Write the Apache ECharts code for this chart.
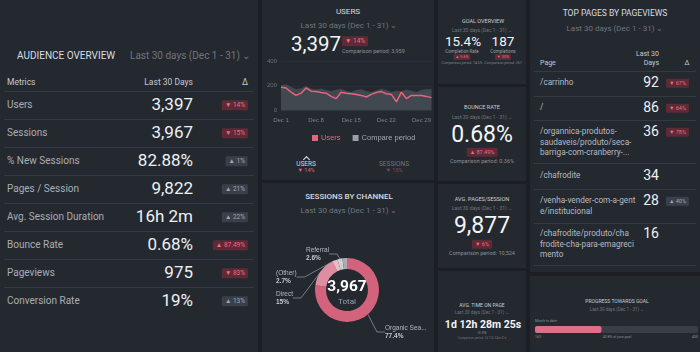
<!DOCTYPE html>
<html>
<head>
<meta charset="utf-8">
<script src="https://cdn.jsdelivr.net/npm/echarts@6/dist/echarts.min.js"></script>
<style>
  html, body { margin: 0; padding: 0; background: #1b1e23; }
  #root { position: relative; width: 700px; height: 352px; overflow: hidden; font-family: Roboto, 'Noto Sans', sans-serif; }
  .panel { position: absolute; background: #242930; }
  .t { position: absolute; white-space: nowrap; line-height: 1; }
  .line { position: absolute; height: 1px; background: #343a42; }
  .badge { display: inline-block; padding: 1.5px 3px; border-radius: 1px; }
  .bad { background: #5e2a35; color: #ec6d85; }
  .neutral { background: #39404a; color: #a1a7af; }
  .chart { position: absolute; }
  .caret { position: absolute; width: 4px; height: 4px; border-left: 1.5px solid #e6e8eb; border-top: 1.5px solid #e6e8eb; transform: rotate(45deg); }
</style>
</head>
<body>
<div id="root"></div>
<script>
// ---- data ----
var metricNames = ['Users', 'Sessions', '% New Sessions', 'Pages / Session', 'Avg. Session Duration', 'Bounce Rate', 'Pageviews', 'Conversion Rate']
var metricValues = ['3,397', '3,967', '82.88%', '9,822', '16h 2m', '0.68%', '975', '19%']
var metricDeltas = ['▼ 14%', '▼ 15%', '▲ 1%', '▲ 21%', '▲ 22%', '▲ 87.49%', '▼ 83%', '▲ 13%']
var metricDeltaKinds = ['bad', 'bad', 'neutral', 'neutral', 'neutral', 'bad', 'bad', 'neutral']

var usersDaily = [187, 182, 148, 122, 140, 182, 156, 153, 145, 140, 114, 96, 148, 140, 135, 130,
  122, 109, 130, 145, 153, 135, 130, 70, 148, 96, 122, 122, 122, 114, 104]
var compareDaily = [205, 212, 190, 172, 180, 198, 176, 170, 178, 166, 158, 168, 176, 160, 150, 166,
  172, 156, 150, 162, 176, 166, 150, 160, 156, 170, 160, 150, 166, 172, 176]
var yTicks = [0, 200, 400]

var channelNames = ['Organic Search', 'Direct', '(Other)', 'Referral', 'Social']
var channelShares = [77.4, 15, 2.7, 2.6, 2.3]
var sessionsTotal = '3,967'

var pagePaths = [
  ['/carrinho'],
  ['/'],
  ['/organnica-produtos-', 'saudaveis/produto/seca-', 'barriga-com-cranberry-...'],
  ['/chafrodite'],
  ['/venha-vender-com-a-gent', 'e/institucional'],
  ['/chafrodite/produto/cha', 'frodite-cha-para-emagreci', 'mento']
]
var pageViews = ['92', '86', '36', '34', '28', '16']
var pageDeltas = ['▼ 67%', '▼ 64%', '▼ 78%', '', '▲ 40%', '']
var pageDeltaKinds = ['bad', 'bad', 'bad', '', 'neutral', '']

var goalDone = 163
var goalTarget = 400

var period = 'Last 30 days (Dec 1 - 31) &#8964;'

// ---- helpers ----
var root = document.getElementById('root')
function box(x, y, w, h, cls) {
  var d = document.createElement('div')
  d.className = cls || 'panel'
  d.style.cssText = 'left:' + x + 'px;top:' + y + 'px;width:' + w + 'px;height:' + h + 'px;'
  root.appendChild(d)
  return d
}
function put(x, y, html, size, color, align, extra) {
  var d = document.createElement('div')
  d.className = 't'
  var tx = align === 'c' ? '-50%' : align === 'r' ? '-100%' : '0'
  d.style.cssText = 'left:' + x + 'px;top:' + y + 'px;font-size:' + size + 'px;color:' + color +
    ';transform:translate(' + tx + ',-50%);' + (extra || '')
  d.innerHTML = html
  root.appendChild(d)
  return d
}
function badge(text, kind, size, pad) {
  return '<span class="badge ' + kind + '" style="font-size:' + size + 'px;' + (pad ? 'padding:' + pad : '') + '">' + text + '</span>'
}

// ---- panels ----
box(0, 0, 258, 352)
box(262, 0, 172, 180)
box(262, 183, 172, 169)
box(438, 0, 88, 84)
box(438, 87, 88, 94)
box(438, 184, 88, 84)
box(438, 271, 88, 81)
box(530, 0, 170, 272)
box(530, 276, 170, 76)

// ---- audience overview ----
put(17, 56, 'AUDIENCE OVERVIEW', 10, '#d9dce1')
put(130, 56, period, 10, '#6f757e')
put(7, 82, 'Metrics', 8.5, '#c4c8ce')
put(193, 82, 'Last 30 Days', 8.5, '#c4c8ce', 'r')
put(245, 82, 'Δ', 8.5, '#c4c8ce', 'c')
box(4, 91, 250, 1, 'line')
metricNames.forEach(function (name, i) {
  var y = 105 + i * 28
  put(7, y, name, 10, '#a9aeb6')
  put(193, y - 1, metricValues[i], 17, '#eef0f3', 'r')
  put(248, y, badge(metricDeltas[i], metricDeltaKinds[i], 6.5), 6.5, '#fff', 'r')
  if (i < metricNames.length - 1) box(4, y + 14, 250, 1, 'line')
})

// ---- users panel ----
put(348, 12, 'USERS', 8, '#d9dce1', 'c')
put(349, 26, period, 8, '#6f757e', 'c')
put(291, 44, '3,397', 20.5, '#f2f4f6')
put(342, 41, badge('▼ 14%', 'bad', 6.5), 6.5, '#fff')
put(342, 52, 'Comparison period: 3,959', 5.5, '#8a9098')
box(303.5, 157, 4, 4, 'caret')
put(306, 164, 'USERS', 6.5, '#d6d9de', 'c')
put(306, 171, '▼ 14%', 5.5, '#e0647c', 'c')
put(394, 164, 'SESSIONS', 6.5, '#6c727a', 'c')
put(394, 171, '▼ 15%', 5.5, '#8a4a57', 'c')

// ---- sessions by channel ----
put(349, 197, 'SESSIONS BY CHANNEL', 8, '#d9dce1', 'c', 'font-weight:500')
put(349, 211, period, 8, '#6f757e', 'c')

// ---- column 3 ----
put(483, 22, 'GOAL OVERVIEW', 5.5, '#c9cdd2', 'c')
put(482, 30, period, 5, '#6f757e', 'c')
put(463, 42, '15.4%', 13.5, '#f2f4f6', 'c')
put(503, 42, '187', 13.5, '#f2f4f6', 'c')
put(462, 51.5, 'Completion Rate', 4.5, '#9aa0a8', 'c')
put(503, 51.5, 'Completions', 4.5, '#9aa0a8', 'c')
put(462, 57, badge('▲ 5.6%', 'bad', 4, '1px 2px'), 4, '#fff', 'c')
put(503, 57, badge('▼ 30%', 'bad', 4, '1px 2px'), 4, '#fff', 'c')
put(462, 63.5, 'Comparison period: 14.6%', 3.5, '#7c828a', 'c')
put(503, 63.5, 'Comparison period: 267', 3.5, '#7c828a', 'c')

put(482, 108, 'BOUNCE RATE', 5.5, '#c9cdd2', 'c')
put(482, 117, period, 5, '#6f757e', 'c')
put(482, 134, '0.68%', 23, '#f4f5f7', 'c')
put(482, 152, badge('▲ 87.49%', 'bad', 5.5), 5.5, '#fff', 'c')
put(482, 162, 'Comparison period: 0.36%', 5.5, '#8a9098', 'c')

put(482, 200, 'AVG. PAGES/SESSION', 5.5, '#c9cdd2', 'c')
put(482, 208, period, 5, '#6f757e', 'c')
put(482, 225, '9,877', 23, '#f4f5f7', 'c')
put(482, 244, badge('▼ 6%', 'bad', 5.5), 5.5, '#fff', 'c')
put(482, 254, 'Comparison period: 10,524', 5.5, '#8a9098', 'c')

put(482, 305, 'AVG. TIME ON PAGE', 5, '#c9cdd2', 'c')
put(482, 313, period, 4.5, '#6f757e', 'c')
put(483, 325, '1d 12h 28m 25s', 10.5, '#f4f5f7', 'c', 'font-weight:700')
put(482, 333, '-0.3%', 4, '#8a9098', 'c')
put(482, 338, 'Comparison period: 1d 12h 34m 51s', 3, '#6f757e', 'c')

// ---- top pages ----
put(615, 13, 'TOP PAGES BY PAGEVIEWS', 8.5, '#d9dce1', 'c')
put(615, 29, period, 8, '#6f757e', 'c')
put(540, 63, 'Page', 7, '#c4c8ce')
put(659, 54, 'Last 30', 7, '#c4c8ce', 'r')
put(659, 63, 'Days', 7, '#c4c8ce', 'r')
put(687, 63, 'Δ', 7, '#c4c8ce', 'c')
box(534, 71, 162, 1, 'line')
var rowTops = [82, 107, 131, 175, 200, 233]
var rowLines = [96, 120, 163, 189, 223, 265]
pagePaths.forEach(function (lines, i) {
  lines.forEach(function (l, k) {
    put(540, rowTops[i] + k * 10.5, l, 8.2, '#b5bac1')
  })
  put(659, rowTops[i], pageViews[i], 14, '#eef0f3', 'r')
  if (pageDeltas[i]) put(689, rowTops[i] + 1, badge(pageDeltas[i], pageDeltaKinds[i], 5.5), 5.5, '#fff', 'r')
  box(534, rowLines[i], 162, 1, 'line')
})

// ---- progress towards goal ----
put(617, 301, 'PROGRESS TOWARDS GOAL', 5, '#c9cdd2', 'c')
put(617, 310, period, 4.5, '#6f757e', 'c')
put(535, 322, 'Month to date', 3.5, '#8a9098')
put(535, 338, String(goalDone), 3.5, '#8a9098')
put(617, 338, (goalDone / goalTarget * 100).toFixed(1) + '% of your goal', 3.5, '#8a9098', 'c')
put(698, 338, String(goalTarget), 3.5, '#8a9098', 'r')

// ---- charts ----
function chartBox(x, y, w, h) {
  var d = box(x, y, w, h, 'chart')
  return echarts.init(d)
}

var days = usersDaily.map(function (v, i) { return 'Dec ' + (i + 1) })

var lineChart = chartBox(262, 55, 172, 88)
lineChart.setOption({
  animation: false,
  grid: { left: 19, top: 6, width: 152, height: 49.5 },
  legend: {
    top: 74, left: 45, itemWidth: 6, itemHeight: 6, itemGap: 12, icon: 'rect',
    data: [
      { name: 'Users', textStyle: { color: '#e8647e' } },
      { name: 'Compare period', itemStyle: { color: '#9a9fa6' }, textStyle: { color: '#a3a8af' } }
    ],
    textStyle: { fontSize: 7.5, padding: [0, 0, 0, -2] }
  },
  xAxis: {
    type: 'category', data: days, boundaryGap: false,
    axisLine: { show: false }, axisTick: { show: false },
    axisLabel: { interval: 6, color: '#7b8189', fontSize: 6, margin: 7 }
  },
  yAxis: {
    type: 'value', min: yTicks[0], max: yTicks[2], interval: 200,
    axisLabel: { color: '#6c727a', fontSize: 6, margin: 4 },
    splitLine: { lineStyle: { color: '#31363e', width: 0.5 } }
  },
  series: [
    {
      name: 'Compare period', type: 'line', data: compareDaily, symbol: 'none',
      lineStyle: { width: 0 }, itemStyle: { color: '#9a9fa6' },
      areaStyle: { color: 'rgba(105,110,118,0.45)', opacity: 1 }
    },
    {
      name: 'Users', type: 'line', data: usersDaily, symbol: 'none',
      lineStyle: { width: 1.5, color: '#e8647e' }, itemStyle: { color: '#e8647e' }
    }
  ]
})

var labelSpots = [[123, 149], [14, 115], [14, 94], [44, 71]]
var donut = chartBox(262, 183, 172, 169)
donut.setOption({
  animation: false,
  color: ['#d3637d', '#df8ea2', '#ebbcc8', '#cfd0d3', '#a9adb3'],
  graphic: [
    { type: 'text', x: 85, y: 104, style: { text: sessionsTotal, fill: '#ffffff', font: 'bold 15.5px Roboto', textAlign: 'center', textVerticalAlign: 'middle' } },
    { type: 'text', x: 85, y: 119, style: { text: 'Total', fill: '#9aa0a8', font: '8px Roboto', textAlign: 'center', textVerticalAlign: 'middle' } }
  ],
  series: [{
    type: 'pie', center: [85, 107], radius: [21, 32], startAngle: 90,
    clockwise: true, avoidLabelOverlap: false,
    itemStyle: { borderWidth: 0 },
    label: {
      show: true, color: '#b5bac1', fontSize: 6.5, lineHeight: 8,
      formatter: function (p) {
        var n = p.name.length > 11 ? p.name.slice(0, 11) + '...' : p.name
        return n + '\n{b|' + p.value + '%}'
      },
      rich: { b: { fontWeight: 'bold', fontSize: 6.5, color: '#c4c8ce' } }
    },
    labelLine: { show: true, length: 8, length2: 8, lineStyle: { color: '#8a9098', width: 0.8 } },
    labelLayout: function (p) {
      var s = labelSpots[p.dataIndex]
      if (!s) return { hideOverlap: false }
      return { x: s[0], y: s[1], align: 'left', verticalAlign: 'middle' }
    },
    data: channelNames.map(function (n, i) {
      var d = { name: n, value: channelShares[i] }
      if (i === 4) { d.label = { show: false }; d.labelLine = { show: false } }
      return d
    })
  }]
})

var progress = chartBox(530, 318, 170, 20)
progress.setOption({
  animation: false,
  grid: { left: 5, right: 2, top: 8, height: 7 },
  xAxis: { type: 'value', min: 0, max: goalTarget, show: false },
  yAxis: { type: 'category', data: ['Month to date'], show: false },
  series: [{
    type: 'bar', data: [goalDone], barWidth: 7,
    itemStyle: { color: '#dd6f87', borderRadius: 2 },
    showBackground: true, backgroundStyle: { color: '#3a3f47', borderRadius: 2 }
  }]
})
</script>
</body>
</html>
